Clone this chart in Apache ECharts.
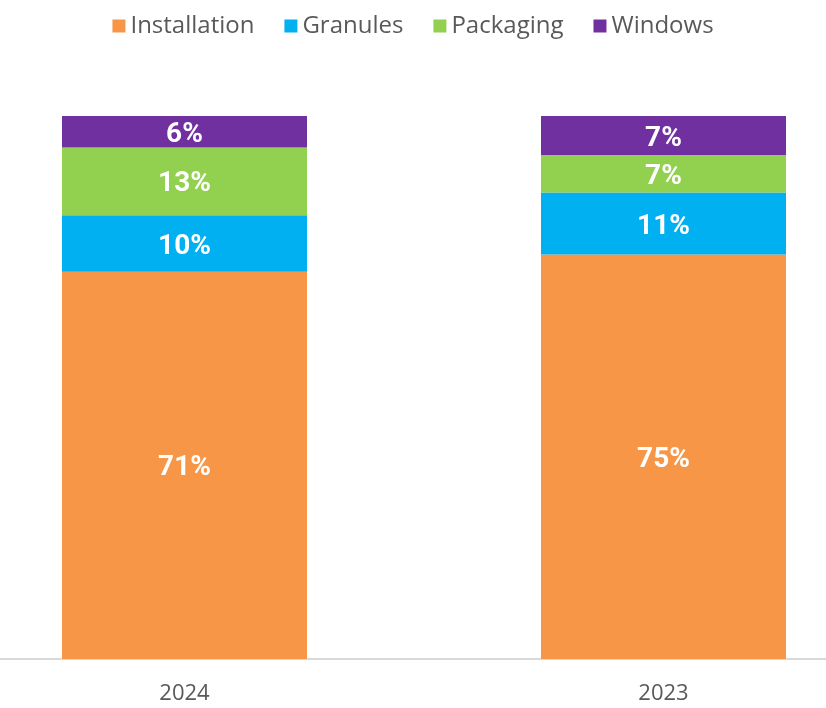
<!DOCTYPE html>
<html>
<head>
<meta charset="utf-8">
<script src="https://cdn.jsdelivr.net/npm/echarts@6/dist/echarts.min.js"></script>
<style>
  html, body { margin: 0; padding: 0; background: #fff; }
  #myChart { width: 826px; height: 708px; }
</style>
</head>
<body>
<div id="myChart"></div>
<script>
var years = ['2024', '2023'];
// shares (labels show them rounded)
var installation = [71.3, 74.5];
var granules = [10.4, 11.4];
var packaging = [12.5, 6.9];
var windows = [5.8, 7.2];

var myChart = echarts.init(document.getElementById('myChart'));

function seg(name, data, color) {
    return {
        name: name,
        type: 'bar',
        stack: 'total',
        barWidth: 245,
        data: data,
        itemStyle: { color: color },
        label: {
            show: true,
            position: 'inside',
            offset: [0, 3],
            color: '#fff',
            fontFamily: 'Roboto',
            fontWeight: 'bold',
            fontSize: 28,
            formatter: function (p) {
                return Math.round(p.value) + '%';
            }
        }
    };
}

var option = {
    animation: false,
    color: ['#F79646', '#00B0F0', '#92D050', '#7030A0'],
    legend: {
        top: 9,
        left: 'center',
        itemWidth: 13,
        itemHeight: 13,
        itemGap: 30,
        icon: 'rect',
        textStyle: { color: '#595959', fontSize: 24, fontFamily: 'Open Sans' },
        data: ['Installation', 'Granules', 'Packaging', 'Windows']
    },
    grid: {
        left: -55,
        right: -77,
        top: 116,
        bottom: 49,
        outerBoundsMode: 'none',
        containLabel: false
    },
    xAxis: {
        type: 'category',
        data: years,
        axisLine: { lineStyle: { color: '#d9d9d9', width: 2 } },
        axisTick: { show: false },
        axisLabel: { color: '#595959', fontSize: 22, fontFamily: 'Open Sans', margin: 24 }
    },
    yAxis: {
        type: 'value',
        min: 0,
        max: 100,
        show: false
    },
    series: [
        seg('Installation', installation, '#F79646'),
        seg('Granules', granules, '#00B0F0'),
        seg('Packaging', packaging, '#92D050'),
        seg('Windows', windows, '#7030A0')
    ]
};

myChart.setOption(option);
</script>
</body>
</html>
